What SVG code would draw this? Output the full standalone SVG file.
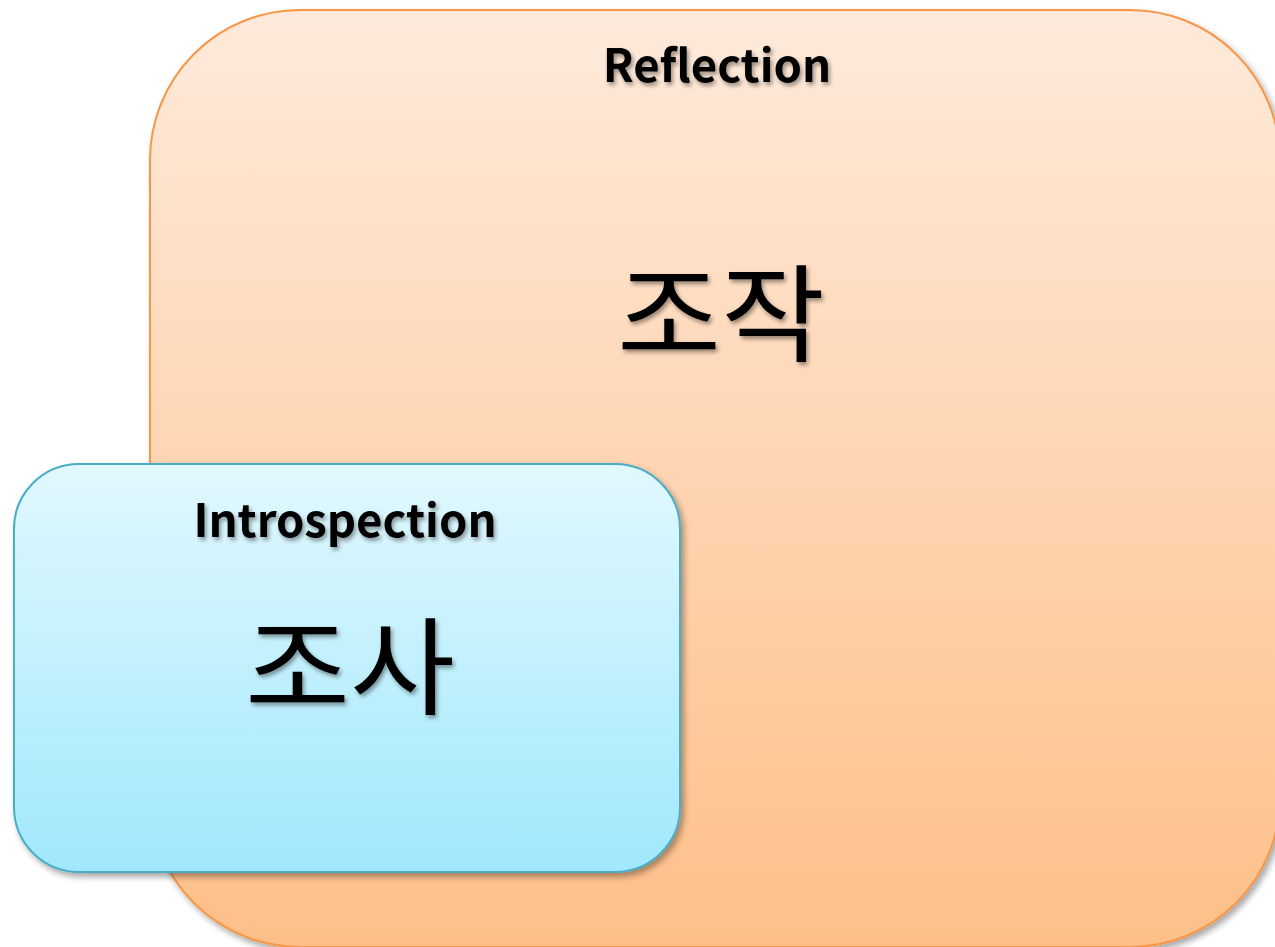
<svg xmlns="http://www.w3.org/2000/svg" width="1275" height="947" viewBox="0 0 1275 947">
<defs>
<linearGradient id="gOrange" x1="0" y1="0" x2="0" y2="1">
<stop offset="0" stop-color="#FEEADB"/>
<stop offset="1" stop-color="#FEBF88"/>
</linearGradient>
<linearGradient id="gBlue" x1="0" y1="0" x2="0" y2="1">
<stop offset="0" stop-color="#E2F8FE"/>
<stop offset="1" stop-color="#A0E8FC"/>
</linearGradient>
<filter id="shadow" x="-10%" y="-10%" width="130%" height="130%">
<feGaussianBlur in="SourceAlpha" stdDeviation="3"/>
<feOffset dx="3" dy="4" result="b"/>
<feComponentTransfer><feFuncA type="linear" slope="0.35"/></feComponentTransfer>
<feMerge><feMergeNode/><feMergeNode in="SourceGraphic"/></feMerge>
</filter>
<filter id="tshadow" x="-10%" y="-20%" width="130%" height="150%">
<feGaussianBlur in="SourceAlpha" stdDeviation="2"/>
<feOffset dx="2" dy="3"/>
<feComponentTransfer><feFuncA type="linear" slope="0.4"/></feComponentTransfer>
<feMerge><feMergeNode/><feMergeNode in="SourceGraphic"/></feMerge>
</filter>
</defs>
<style>
text { font-family: "Noto Sans CJK KR", "Noto Sans", sans-serif; font-weight: bold; fill: #000; text-anchor: middle; }
.title { font-size: 45.5px; }
.big { font-size: 106px; font-weight: 400; }
</style>
<rect width="1275" height="947" fill="#FFFFFF"/>
<g id="reflection">
<rect x="150" y="10" width="1130" height="937" rx="150" ry="150" fill="url(#gOrange)" stroke="#F79646" stroke-width="2" filter="url(#shadow)"/>
<text class="title" x="717" y="82" filter="url(#tshadow)">Reflection</text>
<text class="big" x="721" y="353" textLength="208" lengthAdjust="spacingAndGlyphs" filter="url(#tshadow)">조작</text>
</g>
<g id="introspection">
<rect x="14" y="464" width="666" height="408" rx="65" ry="65" fill="url(#gBlue)" stroke="#4BACC6" stroke-width="2" filter="url(#shadow)"/>
<text class="title" x="345" y="537" filter="url(#tshadow)">Introspection</text>
<text class="big" x="350" y="706" textLength="210" lengthAdjust="spacingAndGlyphs" filter="url(#tshadow)">조사</text>
</g>
<g id="connectors"/>
</svg>
